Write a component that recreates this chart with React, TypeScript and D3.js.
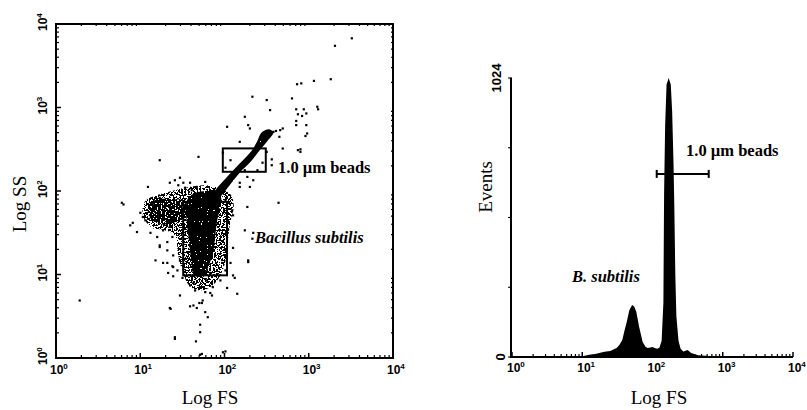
import React from "react";
import * as d3 from "d3";

// ---------- DATA (log10 decades) ----------
const decades = [0, 1, 2, 3, 4];

// scattered single events [log FS, log SS]
const sparseEvents: [number, number][] = [
  [3.51, 3.83], [3.31, 3.74], [3.26, 3.34], [3.06, 3.32], [2.91, 3.29], [2.86, 3.28], [2.8, 3.11],
  [2.85, 2.98], [2.94, 2.98], [2.97, 2.93], [2.87, 2.92], [2.92, 2.9], [3.11, 2.98], [2.85, 2.84],
  [2.85, 2.79], [2.97, 2.79], [2.61, 2.72], [2.66, 2.73], [2.69, 2.75], [2.65, 2.65], [2.96, 2.66],
  [2.69, 2.51], [2.9, 2.5], [2.9, 2.47], [2.56, 2.38], [2.33, 3.13], [2.5, 3.09], [2.54, 2.97],
  [2.24, 2.89], [2.03, 2.77], [2.28, 2.79], [2.3, 2.75], [1.69, 2.41], [1.23, 2.37], [2.58, 2.71],
  [2.18, 2.59], [3.1, 3.01], [2.98, 2.69], [2.87, 2.49],
];
const beadGateEvents: [number, number][] = [
  [1.98, 2.46], [2.01, 2.28], [2.15, 2.22], [2.27, 2.17], [2.39, 2.25], [2.45, 2.34], [2.5, 2.47],
  [2.33, 2.43], [2.56, 2.31], [2.07, 2.37], [2.24, 2.25],
];
const bacillusFringe: [number, number][] = [
  [1.41, 2.13], [1.47, 2.16], [1.53, 2.04], [1.59, 2.1], [1.09, 2.05], [1.35, 2.1], [1.45, 2.07],
  [1.51, 2.1], [1.61, 2.01], [1.67, 2.05], [1.77, 2.11], [2.18, 2.1], [2.3, 2.05], [2.34, 2.13],
  [2.27, 1.81], [2.1, 1.71], [2.64, 1.86], [2.09, 1.77], [2.18, 2.05], [2.01, 1.89], [0.78, 1.86],
  [0.8, 1.84], [1.23, 1.92], [1.15, 1.83], [1.0, 1.74], [1.03, 1.69], [0.91, 1.62], [1.12, 1.71],
  [1.06, 1.65], [0.88, 1.59], [0.96, 1.51], [1.12, 1.5], [1.2, 1.45], [1.27, 1.53], [1.35, 1.57],
  [1.23, 1.35], [1.32, 1.39], [1.39, 1.23], [1.32, 1.14], [1.44, 1.05], [1.18, 1.17], [1.23, 1.33],
  [1.32, 1.29], [1.38, 1.45], [1.47, 1.17], [1.39, 1.09], [1.27, 1.14], [1.38, 1.1], [1.33, 1.02],
  [1.39, 0.98], [1.5, 0.96], [2.03, 1.53], [2.1, 1.32], [2.07, 1.14], [2.28, 1.17], [2.34, 1.5],
  [2.24, 1.53], [2.28, 1.15], [2.01, 1.05], [1.97, 1.14], [1.83, 1.02], [1.95, 0.93], [1.86, 0.85],
  [2.12, 0.96], [2.1, 0.99], [2.33, 1.43],
];
const lowTailEvents: [number, number][] = [
  [1.47, 0.75], [1.36, 0.59], [1.59, 0.62], [1.63, 0.63], [1.67, 0.6], [1.73, 0.66], [1.77, 0.55],
  [1.8, 0.49], [1.71, 0.4], [1.71, 0.31], [1.41, 0.23], [1.66, 0.2], [1.73, 0.05], [2.01, 0.08],
  [2.03, 0.84], [2.15, 0.77], [1.59, 0.87], [1.65, 0.81], [1.77, 0.79], [1.83, 0.78], [1.85, 0.75],
  [1.63, 0.9], [1.71, 0.85], [1.74, 0.69], [1.7, 0.66], [1.79, 0.93], [1.85, 0.9], [0.28, 0.69],
  [1.35, 0.6], [1.41, 0.25], [1.98, 0.07], [1.71, 0.04],
];

// dense regions (outline vertices, log FS / log SS)
const bacillusHalo: [number, number][] = [
  [1.07, 1.89], [1.23, 1.96], [1.41, 2.01], [1.59, 2.05], [1.77, 2.07], [1.92, 2.04], [2.07, 1.96],
  [2.11, 1.83], [2.07, 1.63], [2.04, 1.41], [2.02, 1.2], [1.97, 1.03], [1.88, 0.89], [1.73, 0.81],
  [1.59, 0.86], [1.51, 1.01], [1.45, 1.23], [1.41, 1.47], [1.29, 1.53], [1.14, 1.56], [1.04, 1.68],
  [1.03, 1.81],
];
const leftLobe: [number, number][] = [
  [1.12, 1.86], [1.23, 1.9], [1.41, 1.9], [1.54, 1.87], [1.54, 1.71], [1.42, 1.63], [1.27, 1.6],
  [1.14, 1.65], [1.09, 1.75],
];
const bacillusCore: [number, number][] = [
  [1.57, 1.92], [1.66, 1.98], [1.78, 2.0], [1.9, 1.99], [1.96, 1.92], [1.94, 1.77], [1.91, 1.63],
  [1.89, 1.46], [1.87, 1.29], [1.83, 1.15], [1.78, 1.03], [1.71, 0.97], [1.64, 0.99], [1.61, 1.11],
  [1.59, 1.29], [1.57, 1.47], [1.55, 1.65], [1.54, 1.8],
];
const beadStreak: [number, number][] = [
  [1.77, 1.84], [1.89, 2.01], [2.04, 2.18], [2.18, 2.33], [2.32, 2.48], [2.39, 2.6], [2.44, 2.7],
  [2.53, 2.74], [2.58, 2.7], [2.51, 2.6], [2.42, 2.49], [2.31, 2.35], [2.18, 2.22], [2.07, 2.08],
  [1.96, 1.94], [1.86, 1.82],
];

// gates (log decades)
const beadGateFS = [1.98, 2.49];
const beadGateSS = [2.23, 2.51];
const bacillusGateFS = [1.51, 2.03];
const bacillusGateSS = [0.99, 1.87];

// FS histogram
const histLogFS = [
  0, 0.5, 1.0, 1.1, 1.2, 1.3, 1.34, 1.4, 1.45, 1.49, 1.53, 1.57, 1.6, 1.63, 1.67, 1.71, 1.74, 1.77,
  1.81, 1.86, 1.9, 1.93, 1.97, 2.0, 2.03, 2.07, 2.1, 2.13, 2.155, 2.165, 2.18, 2.2, 2.23, 2.26, 2.28,
  2.3, 2.31, 2.325, 2.34, 2.37, 2.4, 2.44, 2.5, 2.55, 2.65, 2.8, 3.0, 3.5, 4.0,
];
const histCounts = [
  0, 1, 3, 8, 12, 18, 20, 22, 28, 33, 45, 62, 95, 125, 172, 191, 185, 165,
  110, 55, 38, 33, 35, 37, 33, 30, 35, 60, 200, 600, 850, 1000, 1024, 1000, 900,
  700, 560, 300, 150, 60, 30, 20, 26, 15, 6, 4, 3, 3, 2,
];
const eventTicks = [0, 256, 512, 768, 1024];
const beadMarkerFS = [2.06, 2.8];
const beadMarkerCount = 672;

// ---------- COMPONENT ----------
const serif = "'Liberation Serif', 'Times New Roman', serif";
const sans = "'Liberation Sans', Arial, sans-serif";

function Pow({ x, y, e, rotate }: { x: number; y: number; e: number; rotate?: boolean }) {
  const tr = rotate ? `translate(${x},${y}) rotate(-90)` : `translate(${x},${y})`;
  return (
    <text transform={tr} x={-7} y={0} fontFamily={sans} fontWeight="bold" fontSize={12} fill="#000">
      10
      <tspan fontSize={8} dy={-5}>{e}</tspan>
    </text>
  );
}

export default function App() {
  const xL = d3.scaleLinear().domain([0, 4]).range([56, 393]);
  const yL = d3.scaleLinear().domain([0, 4]).range([358, 24]);
  const xR = d3.scaleLinear().domain([0, 4]).range([512, 793]);
  const yR = d3.scaleLinear().domain([0, 1024]).range([357, 78]);

  const minor: number[] = [];
  for (let d = 0; d < 4; d++) for (let m = 2; m <= 9; m++) minor.push(d + Math.log10(m));

  const blob = d3
    .line<[number, number]>()
    .x((p) => xL(p[0]))
    .y((p) => yL(p[1]))
    .curve(d3.curveCatmullRomClosed.alpha(0.5));

  const area = d3
    .area<number>()
    .x((_, i) => xR(histLogFS[i]))
    .y0(yR(0))
    .y1((c) => yR(c))
    .curve(d3.curveLinear);

  const allDots = [...sparseEvents, ...beadGateEvents, ...bacillusFringe, ...lowTailEvents];

  const speck = (id: string, offset: number, seed: number, freq: number) => (
    <filter id={id} x="0" y="0" width="807" height="410" filterUnits="userSpaceOnUse" colorInterpolationFilters="sRGB">
      <feTurbulence type="fractalNoise" baseFrequency={freq} numOctaves={2} seed={seed} result="n" />
      <feColorMatrix in="n" type="matrix" values={`0 0 0 0 0  0 0 0 0 0  0 0 0 0 0  1 0 0 0 ${offset}`} result="a" />
      <feComponentTransfer in="a" result="m">
        <feFuncA type="discrete" tableValues="0 1" />
      </feComponentTransfer>
      <feComposite in="SourceGraphic" in2="m" operator="in" />
    </filter>
  );

  return (
    <svg width={807} height={410} style={{ position: "absolute", left: 0, top: 0, background: "#fff" }}>
      <defs>
        {speck("speckHalo", 0.0, 4, 0.6)}
        {speck("speckLobe", 0.05, 9, 0.65)}
        {speck("speckCore", 0.2, 2, 0.7)}
        {speck("speckBead", 0.3, 5, 0.7)}
      </defs>

      {/* ---------- LEFT: scatter ---------- */}
      <path d={blob(bacillusHalo) || ""} fill="#000" filter="url(#speckHalo)" />
      <path d={blob(leftLobe) || ""} fill="#000" filter="url(#speckLobe)" />
      <path d={blob(bacillusCore) || ""} fill="#000" filter="url(#speckCore)" />
      <path d={blob(beadStreak) || ""} fill="#000" filter="url(#speckBead)" />
      {allDots.map((p, i) => (
        <rect key={i} x={xL(p[0]) - 1} y={yL(p[1]) - 1} width={2.2} height={2.2} fill="#000" />
      ))}

      {/* gates */}
      <rect
        x={xL(beadGateFS[0])}
        y={yL(beadGateSS[1])}
        width={xL(beadGateFS[1]) - xL(beadGateFS[0])}
        height={yL(beadGateSS[0]) - yL(beadGateSS[1])}
        fill="none"
        stroke="#000"
        strokeWidth={2}
      />
      <rect
        x={xL(bacillusGateFS[0])}
        y={yL(bacillusGateSS[1])}
        width={xL(bacillusGateFS[1]) - xL(bacillusGateFS[0])}
        height={yL(bacillusGateSS[0]) - yL(bacillusGateSS[1])}
        fill="none"
        stroke="#000"
        strokeWidth={2}
      />

      {/* frame */}
      <rect x={xL(0)} y={yL(4)} width={xL(4) - xL(0)} height={yL(0) - yL(4)} fill="none" stroke="#000" strokeWidth={2} />
      {minor.map((m, i) => (
        <g key={"m" + i} stroke="#000" strokeWidth={1.2}>
          <line x1={xL(m)} x2={xL(m)} y1={yL(0)} y2={yL(0) - 3} />
          <line x1={xL(0)} x2={xL(0) + 3} y1={yL(m)} y2={yL(m)} />
          <line x1={xL(4)} x2={xL(4) - 2} y1={yL(m)} y2={yL(m)} />
          <line x1={xL(m)} x2={xL(m)} y1={yL(4)} y2={yL(4) + 2} />
        </g>
      ))}
      {decades.map((d) => (
        <g key={"d" + d} stroke="#000" strokeWidth={1.5}>
          <line x1={xL(d)} x2={xL(d)} y1={yL(0)} y2={yL(0) - 5} />
          <line x1={xL(0)} x2={xL(0) + 5} y1={yL(d)} y2={yL(d)} />
        </g>
      ))}
      {decades.map((d) => (
        <Pow key={"xl" + d} x={xL(d) + 1} y={374} e={d} />
      ))}
      {decades.map((d) => (
        <Pow key={"yl" + d} x={47} y={yL(d)} e={d} rotate />
      ))}
      <text x={210} y={404} textAnchor="middle" fontFamily={serif} fontSize={19}>Log FS</text>
      <text transform="translate(26,204) rotate(-90)" textAnchor="middle" fontFamily={serif} fontSize={19}>Log SS</text>
      <text x={278} y={173} fontFamily={serif} fontWeight="bold" fontSize={16.5}>1.0 µm beads</text>
      <text x={255} y={243} fontFamily={serif} fontWeight="bold" fontStyle="italic" fontSize={16.5}>Bacillus subtilis</text>

      {/* ---------- RIGHT: histogram ---------- */}
      <path d={area(histCounts) || ""} fill="#000" />
      <line x1={xR(0) - 1} x2={xR(0) - 1} y1={yR(1024)} y2={yR(0) + 1} stroke="#000" strokeWidth={2} />
      <line x1={xR(0) - 1} x2={xR(4)} y1={yR(0)} y2={yR(0)} stroke="#000" strokeWidth={2} />
      {eventTicks.map((t) => (
        <line key={"et" + t} x1={xR(0) - 4} x2={xR(0)} y1={yR(t)} y2={yR(t)} stroke="#000" strokeWidth={1.2} />
      ))}
      {minor.map((m, i) => (
        <line key={"rm" + i} x1={xR(m)} x2={xR(m)} y1={yR(0)} y2={yR(0) - 3} stroke="#000" strokeWidth={1.2} />
      ))}
      {decades.map((d) => (
        <line key={"rd" + d} x1={xR(d)} x2={xR(d)} y1={yR(0)} y2={yR(0) - 5} stroke="#000" strokeWidth={1.5} />
      ))}
      {decades.map((d) => (
        <Pow key={"xr" + d} x={xR(d) + 2} y={372} e={d} />
      ))}
      <text transform={`translate(501,${yR(1024)}) rotate(-90)`} textAnchor="middle" fontFamily={sans} fontWeight="bold" fontSize={13}>1024</text>
      <text transform={`translate(505,${yR(0)}) rotate(-90)`} textAnchor="middle" fontFamily={sans} fontWeight="bold" fontSize={13}>0</text>
      <text transform="translate(492,187) rotate(-90)" textAnchor="middle" fontFamily={serif} fontSize={19}>Events</text>
      <text x={659} y={404} textAnchor="middle" fontFamily={serif} fontSize={19}>Log FS</text>

      {/* bead marker */}
      <g stroke="#000" strokeWidth={2}>
        <line x1={xR(beadMarkerFS[0])} x2={xR(beadMarkerFS[1])} y1={yR(beadMarkerCount)} y2={yR(beadMarkerCount)} />
        <line x1={xR(beadMarkerFS[0])} x2={xR(beadMarkerFS[0])} y1={yR(beadMarkerCount) - 4} y2={yR(beadMarkerCount) + 4} />
        <line x1={xR(beadMarkerFS[1])} x2={xR(beadMarkerFS[1])} y1={yR(beadMarkerCount) - 4} y2={yR(beadMarkerCount) + 4} />
      </g>
      <text x={686} y={156} fontFamily={serif} fontWeight="bold" fontSize={16.5}>1.0 µm beads</text>
      <text x={572} y={282} fontFamily={serif} fontWeight="bold" fontStyle="italic" fontSize={16.5}>B. subtilis</text>
    </svg>
  );
}
